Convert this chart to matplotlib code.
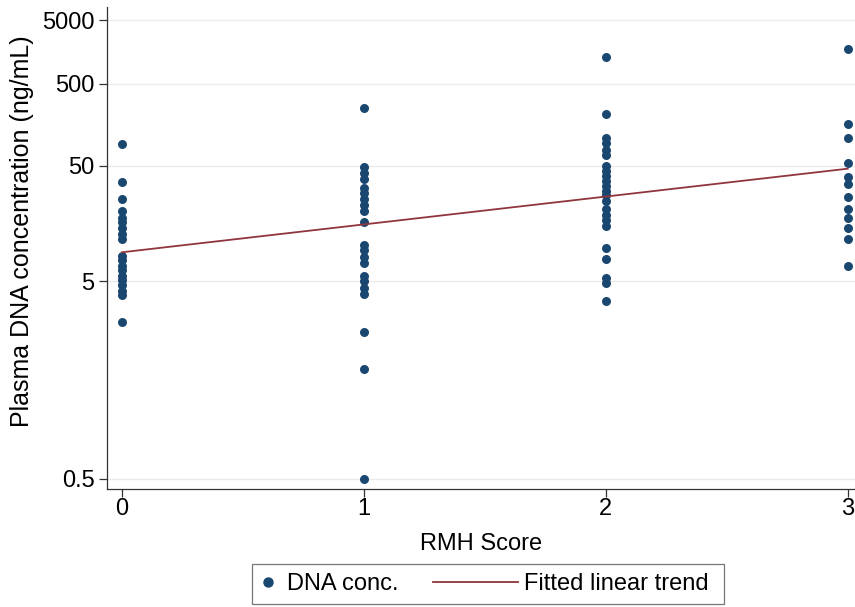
import numpy as np
import matplotlib
matplotlib.use("Agg")
import matplotlib.pyplot as plt
from matplotlib.lines import Line2D
from matplotlib.legend_handler import HandlerBase

plt.rcParams['font.family'] = ['Liberation Sans', 'DejaVu Sans']

# RMH score groups and plasma DNA concentrations (ng/mL)
score0 = [85.7, 33.8, 23.2, 18.0, 15.9, 14.4, 13.0, 11.6, 10.4, 7.7, 7.1, 6.5,
          6.0, 5.5, 5.1, 4.7, 4.3, 4.0, 2.7]
score1 = [240, 49, 42.6, 37, 30, 26.4, 23.2, 20.4, 18.0, 14.4, 9.4, 8.5, 7.6,
          6.8, 5.5, 5.0, 4.5, 4.1, 2.37, 1.48, 0.5]
score2 = [1227, 201, 103, 88, 75, 64.6, 50, 44.7, 39.7, 35.3, 31.5, 28.2, 25.3,
          22.6, 19.1, 16.9, 15.0, 13.3, 8.9, 7.3, 5.3, 4.9, 3.7]
score3 = [1635, 151, 103, 53, 38.8, 32.3, 24.2, 19.1, 15.9, 12.8, 10.5, 6.4]
groups = [score0, score1, score2, score3]

trend_x = [0, 3]
trend_y = [8.2, 46.7]

yticks = [0.5, 5, 50, 500, 5000]
ytick_labels = ["0.5", "5", "50", "500", "5000"]
xticks = [0, 1, 2, 3]


# axis scale used in the original: log(log(20*y))
def fwd(y):
    y = np.asarray(y, dtype=float)
    with np.errstate(invalid='ignore', divide='ignore'):
        return np.log(np.log(np.clip(y, 0.051, None) * 20))


def inv(z):
    z = np.asarray(z, dtype=float)
    return np.exp(np.exp(z)) / 20


class DotLeft(HandlerBase):
    # marker sits in a narrow handle box
    def create_artists(self, legend, orig, xdescent, ydescent, width, height, fontsize, trans):
        m = Line2D([width / 2 - xdescent], [height / 2 - ydescent], marker='o', ls='none',
                   color=orig.get_color(), markersize=orig.get_markersize())
        m.set_transform(trans)
        return [m]


class LongLine(HandlerBase):
    # line reaches back into the column gap, like Stata's legend key
    def create_artists(self, legend, orig, xdescent, ydescent, width, height, fontsize, trans):
        y = height / 2 - ydescent
        ln = Line2D([width + 4 - 61 - xdescent, width + 4 - xdescent], [y, y],
                    color=orig.get_color(), lw=orig.get_linewidth())
        ln.set_transform(trans)
        return [ln]


xs = np.concatenate([np.full(len(g), i) for i, g in enumerate(groups)])
ys = np.concatenate([np.array(g, dtype=float) for g in groups])

navy = '#1a476f'
maroon = '#90353b'

fig = plt.figure(figsize=(8.55, 6.07), dpi=100)
ax = fig.add_axes([0.125, 0.194, 0.875, 0.794])
ax.set_yscale('function', functions=(fwd, inv))

ax.scatter(xs, ys, s=42, color=navy, zorder=3, linewidths=0)
ax.plot(trend_x, trend_y, color=maroon, lw=1.3, zorder=4)

ax.set_xlim(-0.062, 3.03)
ax.set_ylim(0.46, 8600)
ax.set_yticks(yticks)
ax.set_yticklabels(ytick_labels)
ax.yaxis.set_minor_locator(matplotlib.ticker.NullLocator())
ax.set_xticks(xticks)
ax.grid(axis='y', color='#ebebeb', lw=1.0, zorder=0)
ax.set_axisbelow(True)

for s in ['top', 'right']:
    ax.spines[s].set_visible(False)
for s in ['left', 'bottom']:
    ax.spines[s].set_color('#333333')
    ax.spines[s].set_linewidth(0.9)

ax.tick_params(axis='both', labelsize=17, length=6, width=0.9, color='#333333')
ax.tick_params(axis='y', pad=3)
ax.tick_params(axis='x', pad=0)
ax.set_xlabel('RMH Score', fontsize=17, labelpad=10)
ax.set_ylabel('Plasma DNA concentration (ng/mL)', fontsize=18)
ax.yaxis.set_label_coords(-0.097, 0.535)

dot = Line2D([], [], marker='o', ls='none', color=navy, markersize=6.5)
fit = Line2D([], [], color=maroon, lw=1.3)
leg = fig.legend([dot, fit], ['DNA conc.', 'Fitted linear trend '], loc='lower center',
                 bbox_to_anchor=(0.571, 0.005), ncol=2, fontsize=17, frameon=True,
                 fancybox=False, edgecolor='#555555', handlelength=0.6,
                 columnspacing=4.2, borderpad=0.38, handletextpad=0.5,
                 borderaxespad=0.0,
                 handler_map={dot: DotLeft(), fit: LongLine()})
leg.get_frame().set_linewidth(0.9)

fig.savefig('out.png', dpi=100, facecolor='white')
